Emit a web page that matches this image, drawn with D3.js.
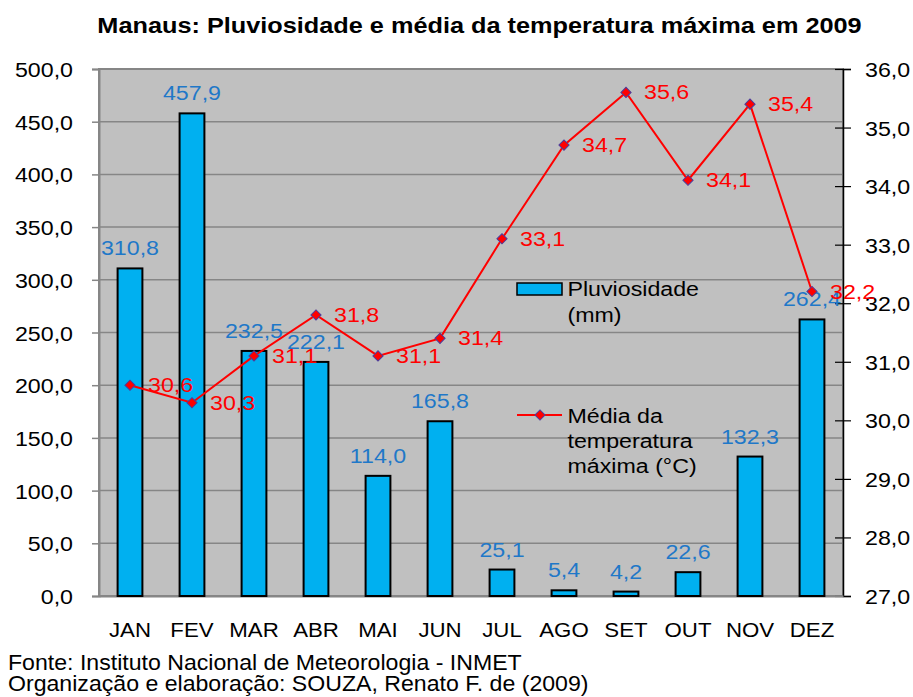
<!DOCTYPE html>
<html>
<head>
<meta charset="utf-8">
<script src="https://cdn.jsdelivr.net/npm/d3@7"></script>
<style>
  body { margin: 0; background: #fff; }
  text { font-family: "Liberation Sans", Arial, sans-serif; }
</style>
</head>
<body>
<div id="chart"></div>
<script>
const months = ["JAN", "FEV", "MAR", "ABR", "MAI", "JUN", "JUL", "AGO", "SET", "OUT", "NOV", "DEZ"];
const rain = [310.8, 457.9, 232.5, 222.1, 114.0, 165.8, 25.1, 5.4, 4.2, 22.6, 132.3, 262.4];
const tempMax = [30.6, 30.3, 31.1, 31.8, 31.1, 31.4, 33.1, 34.7, 35.6, 34.1, 35.4, 32.2];
const rainTicks = [0, 50, 100, 150, 200, 250, 300, 350, 400, 450, 500];
const tempTicks = [27, 28, 29, 30, 31, 32, 33, 34, 35, 36];

const W = 913, H = 697;
const margin = { top: 69, right: 70, bottom: 101, left: 99 };
const width = W - margin.left - margin.right;
const height = H - margin.top - margin.bottom;
const fmt = d => d3.format(".1f")(d).replace(".", ",");
const K = 1.19; // text in the original is a little wider than Arial

// squeeze/widen text horizontally around its own x
function stretch(sel, k) {
  sel.each(function () {
    const t = d3.select(this);
    const x = +t.attr("x") || 0;
    t.attr("x", x / k).attr("transform", `scale(${k},1)`);
  });
}

const svg = d3.select("#chart").append("svg")
  .attr("width", W)
  .attr("height", H);

const g = svg.append("g")
  .attr("transform", `translate(${margin.left},${margin.top})`);

const x = d3.scaleBand().domain(months).range([0, width]).paddingInner(0.6).paddingOuter(0.3);
const yL = d3.scaleLinear().domain([0, 500]).range([height, 0]);
const yR = d3.scaleLinear().domain([27, 36]).range([height, 0]);

// plot background
g.append("rect")
  .attr("width", width)
  .attr("height", height)
  .style("fill", "#c0c0c0")
  .style("stroke", "#868686")
  .style("stroke-width", 2);

// gridlines
g.selectAll(".grid")
  .data(rainTicks.slice(1, -1))
  .enter().append("line")
  .attr("x1", 0).attr("x2", width)
  .attr("y1", d => yL(d)).attr("y2", d => yL(d))
  .style("stroke", "#868686")
  .style("stroke-width", 1.5);

// left axis
const axL = g.append("g")
  .call(d3.axisLeft(yL).tickValues(rainTicks).tickFormat(fmt).tickSize(7).tickPadding(19));
axL.select(".domain").style("stroke", "#868686").style("stroke-width", 2);
axL.selectAll(".tick line").style("stroke", "#868686").style("stroke-width", 1.5);
axL.selectAll("text").attr("dy", null).attr("y", 7.5).style("font-size", "19.5px").style("fill", "#000");
stretch(axL.selectAll("text"), K);

// right axis
const axR = g.append("g")
  .attr("transform", `translate(${width},0)`)
  .call(d3.axisRight(yR).tickValues(tempTicks).tickFormat(fmt).tickSize(8).tickPadding(14));
axR.select(".domain").style("stroke", "#000").style("stroke-width", 1.5);
axR.selectAll(".tick line").attr("x1", -8).style("stroke", "#000").style("stroke-width", 1.2);
axR.selectAll("text").attr("dy", null).attr("y", 7.5).style("font-size", "19.5px").style("fill", "#000");
stretch(axR.selectAll("text"), K);

// bottom axis labels
const axB = g.append("g")
  .attr("transform", `translate(0,${height})`)
  .call(d3.axisBottom(x).tickSize(0));
axB.select(".domain").style("stroke", "#868686").style("stroke-width", 2);
axB.selectAll("text").attr("dy", null).attr("y", 41).style("font-size", "21px").style("fill", "#000");
stretch(axB.selectAll("text"), 1.06);

// bars
g.selectAll(".bar")
  .data(rain)
  .enter().append("rect")
  .attr("class", "bar")
  .attr("x", (d, i) => x(months[i]))
  .attr("y", d => yL(d))
  .attr("width", x.bandwidth())
  .attr("height", d => height - yL(d))
  .style("fill", "#00b0f0")
  .style("stroke", "#000")
  .style("stroke-width", 2);

const barLabels = g.selectAll(".barlabel")
  .data(rain)
  .enter().append("text")
  .attr("x", (d, i) => x(months[i]) + x.bandwidth() / 2)
  .attr("y", d => yL(d) - 13)
  .attr("text-anchor", "middle")
  .style("font-size", "19.5px")
  .style("fill", "#1f78c8")
  .text(fmt);
stretch(barLabels, K);

// temperature line
const cx = (d, i) => x(months[i]) + x.bandwidth() / 2;
const line = d3.line().x(cx).y(d => yR(d));

g.append("path")
  .datum(tempMax)
  .attr("d", line)
  .style("fill", "none")
  .style("stroke", "#ff0000")
  .style("stroke-width", 2);

const marker = d3.symbol().type(d3.symbolSquare).size(52);
g.selectAll(".pt")
  .data(tempMax)
  .enter().append("path")
  .attr("d", marker)
  .attr("transform", (d, i) => `translate(${cx(d, i)},${yR(d)}) rotate(45)`)
  .style("fill", "#ff0000")
  .style("stroke", "#4b3c9c")
  .style("stroke-width", 1);

const tempLabels = g.selectAll(".templabel")
  .data(tempMax)
  .enter().append("text")
  .attr("x", (d, i) => cx(d, i) + 18)
  .attr("y", d => yR(d) + 7)
  .style("font-size", "19.5px")
  .style("fill", "#ff0000")
  .text(fmt);
stretch(tempLabels, K);

// legend
const legend = svg.append("g").attr("class", "legend");
legend.append("rect")
  .attr("x", 517).attr("y", 283)
  .attr("width", 45).attr("height", 12)
  .style("fill", "#00b0f0")
  .style("stroke", "#000")
  .style("stroke-width", 1.5);
legend.append("line")
  .attr("x1", 517).attr("x2", 562)
  .attr("y1", 415).attr("y2", 415)
  .style("stroke", "#ff0000")
  .style("stroke-width", 2);
legend.append("path")
  .attr("d", marker)
  .attr("transform", "translate(540,415) rotate(45)")
  .style("fill", "#ff0000")
  .style("stroke", "#4b3c9c");

const legendText = [
  { t: "Pluviosidade", y: 296 },
  { t: "(mm)", y: 322 },
  { t: "Média da", y: 423 },
  { t: "temperatura", y: 448 },
  { t: "máxima (°C)", y: 473 }
];
legend.selectAll(".lt")
  .data(legendText)
  .enter().append("text")
  .attr("transform", d => `translate(567.5,${d.y}) scale(${K},1)`)
  .style("font-size", "19.5px")
  .text(d => d.t);

// title
svg.append("text")
  .attr("transform", `translate(479.5,33) scale(1.15,1)`)
  .attr("text-anchor", "middle")
  .style("font-size", "22px")
  .style("font-weight", "bold")
  .text("Manaus: Pluviosidade e média da temperatura máxima em 2009");

// source
svg.append("text")
  .attr("transform", `translate(8,669.5) scale(1.075,1)`)
  .style("font-size", "21.5px")
  .text("Fonte: Instituto Nacional de Meteorologia - INMET");
svg.append("text")
  .attr("transform", `translate(8,691) scale(1.075,1)`)
  .style("font-size", "21.5px")
  .text("Organização e elaboração: SOUZA, Renato F. de (2009)");
</script>
</body>
</html>
